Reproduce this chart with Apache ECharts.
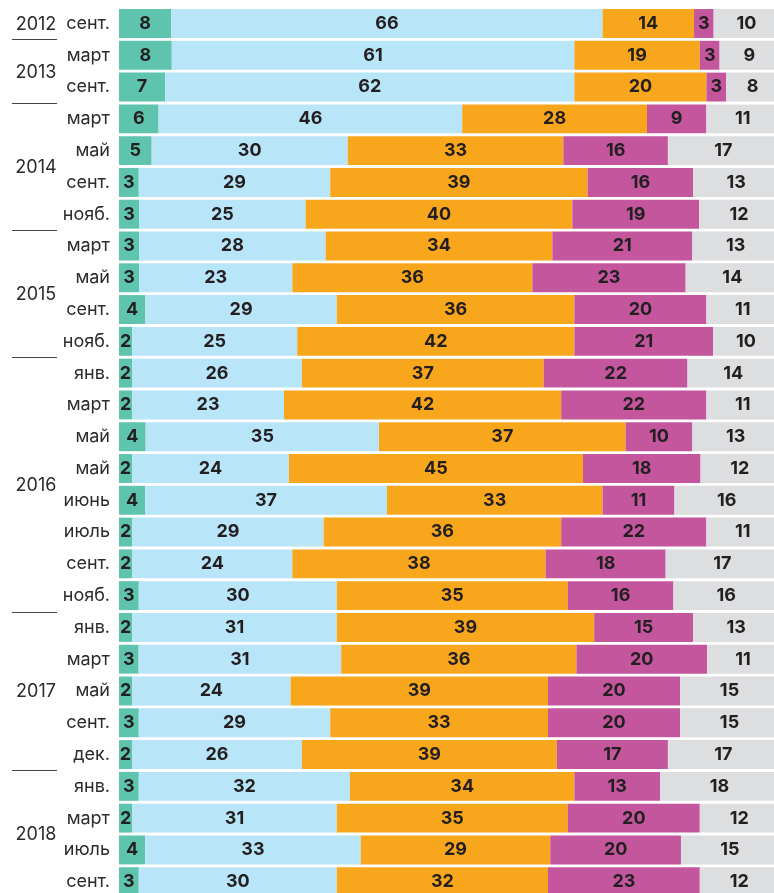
<!DOCTYPE html>
<html>
<head>
<meta charset="utf-8">
<script src="https://cdn.jsdelivr.net/npm/echarts@6/dist/echarts.min.js"></script>
<style>
html,body{margin:0;padding:0;background:#fff;overflow:hidden;width:774px;height:893px;}
#c{width:782px;height:900px;}
</style>
</head>
<body>
<div id="c"></div>
<script>
var months = ['сент.','март','сент.','март','май','сент.','нояб.','март','май','сент.','нояб.','янв.','март','май','май','июнь','июль','сент.','нояб.','янв.','март','май','сент.','дек.','янв.','март','июль','сент.'];
var years = ['2012','2013','2014','2015','2016','2017','2018'];
var yearRowCounts = [1,2,4,4,8,5,4];

var green   = [8,8,7,6,5,3,3,3,3,4,2,2,2,4,2,4,2,2,3,2,3,2,3,2,3,2,4,3];
var blue    = [66,61,62,46,30,29,25,28,23,29,25,26,23,35,24,37,29,24,30,31,31,24,29,26,32,31,33,30];
var orange  = [14,19,20,28,33,39,40,34,36,36,42,37,42,37,45,33,36,38,35,39,36,39,33,39,34,35,29,32];
var magenta = [3,3,3,9,16,16,19,21,23,20,21,22,22,10,18,11,22,18,16,15,20,20,20,17,13,20,20,23];
var grey    = [10,9,8,11,17,13,12,13,14,11,10,14,11,13,12,16,11,17,16,13,11,15,15,17,18,12,15,12];

var seriesRaw = [green, blue, orange, magenta, grey];
var colors = ['#5FC4AD', '#B9E5F8', '#F8A61C', '#C4569E', '#DDDEE0'];

var totals = months.map(function(_, i){
  return seriesRaw.reduce(function(s, arr){ return s + arr[i]; }, 0);
});

var chart = echarts.init(document.getElementById('c'));
var FONT = 'Inter, Roboto, "DejaVu Sans", sans-serif';

var series = seriesRaw.map(function(arr, k){
  return {
    type: 'bar',
    stack: 'all',
    barCategoryGap: '9%',
    itemStyle: { color: colors[k] },
    label: {
      show: true,
      position: 'inside',
      color: '#231F20',
      fontFamily: FONT,
      fontWeight: 'bold',
      fontSize: 18,
      formatter: function(p){ return String(arr[p.dataIndex]); }
    },
    emphasis: { disabled: true },
    data: arr.map(function(v, i){ return v / totals[i] * 100; })
  };
});

chart.setOption({
  animation: false,
  grid: { left: 119, top: 7.6, width: 660, height: 890, containLabel: false },
  xAxis: { type: 'value', min: 0, max: 100, show: false },
  yAxis: {
    type: 'category',
    inverse: true,
    data: months,
    axisLine: { show: false },
    axisTick: { show: false },
    splitLine: { show: false },
    axisLabel: {
      margin: 9,
      color: '#2b2b2b',
      fontFamily: FONT,
      fontSize: 18
    }
  },
  series: series
});

// year labels and separator lines positioned via the axis scale
var graphics = [];
var start = 0;
for (var g = 0; g < years.length; g++) {
  var end = start + yearRowCounts[g] - 1;
  var y0 = chart.convertToPixel({ yAxisIndex: 0 }, start);
  var y1 = chart.convertToPixel({ yAxisIndex: 0 }, end);
  graphics.push({
    type: 'text',
    x: 36, y: (y0 + y1) / 2 + 1,
    style: {
      text: years[g],
      fill: '#2b2b2b',
      font: '18px ' + FONT,
      align: 'center',
      verticalAlign: 'middle'
    }
  });
  if (g < years.length - 1) {
    var yb1 = chart.convertToPixel({ yAxisIndex: 0 }, end);
    var yb2 = chart.convertToPixel({ yAxisIndex: 0 }, end + 1);
    var yb = Math.round((yb1 + yb2) / 2) + 0.5;
    graphics.push({
      type: 'line',
      shape: { x1: 12, y1: yb, x2: 57, y2: yb },
      style: { stroke: '#444', lineWidth: 1 }
    });
  }
  start = end + 1;
}
chart.setOption({ graphic: graphics });
</script>
</body>
</html>
